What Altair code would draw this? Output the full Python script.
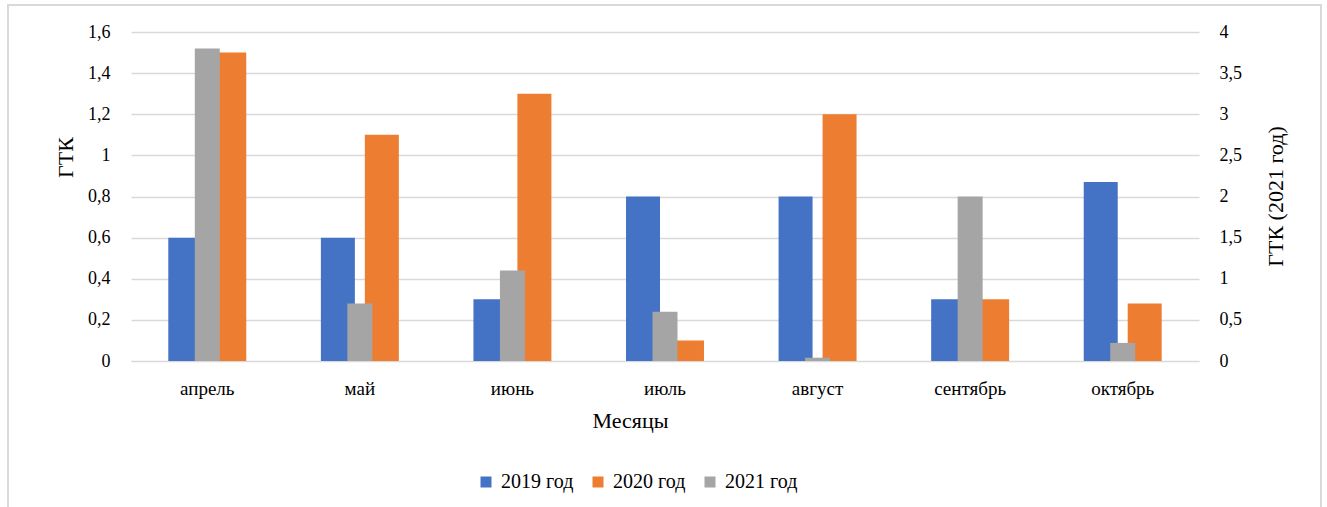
import altair as alt
import pandas as pd

months = ["апрель", "май", "июнь", "июль", "август", "сентябрь", "октябрь"]
gtk_2019 = [0.6, 0.6, 0.3, 0.8, 0.8, 0.3, 0.87]
gtk_2020 = [1.5, 1.1, 1.3, 0.1, 1.2, 0.3, 0.28]
gtk_2021 = [3.8, 0.7, 1.1, 0.6, 0.04, 2.0, 0.22]
series = ["2019 год", "2020 год", "2021 год"]
colors = ["#4472C4", "#ED7D31", "#A5A5A5"]

rows = []
for s, vals in zip(series, [gtk_2019, gtk_2020, gtk_2021]):
    for m, v in zip(months, vals):
        rows.append({"month": m, "series": s, "value": v})
df = pd.DataFrame(rows)

FONT = "Times New Roman"
W, H = 1068, 329
GRID = "#D9D9D9"
comma = "replace(format(datum.value, '.1~f'), '.', ',')"

xscale = alt.Scale(domain=months, paddingInner=0.489, paddingOuter=0.2445)
xaxis = alt.Axis(title="Месяцы", labelAngle=0, domain=True, domainColor=GRID, ticks=False,
                 labelPadding=18, labelFontSize=19, labelFont=FONT, labelColor="#000000",
                 titleFont=FONT, titleFontSize=22, titleFontWeight="normal", titleColor="#000000",
                 titleX=499, titleY=59, titleBaseline="middle", titleAlign="center")

color = alt.Color("series:N", scale=alt.Scale(domain=series, range=colors),
                  legend=alt.Legend(title=None, orient="none", direction="horizontal",
                                    legendX=345, legendY=440, symbolType="square",
                                    symbolSize=121, symbolStrokeWidth=0, labelFont=FONT,
                                    labelFontSize=20, labelColor="#000000", labelOffset=5,
                                    columnPadding=14))

primary = alt.Chart(df).transform_filter(
    alt.FieldOneOfPredicate(field="series", oneOf=series[:2])
).mark_bar().encode(
    x=alt.X("month:N", scale=xscale, axis=xaxis),
    xOffset=alt.XOffset("series:N", scale=alt.Scale(domain=series[:2], paddingInner=0.227, paddingOuter=0)),
    y=alt.Y("value:Q", scale=alt.Scale(domain=[0, 1.6]),
            axis=alt.Axis(title="ГТК", values=[0, 0.2, 0.4, 0.6, 0.8, 1.0, 1.2, 1.4, 1.6],
                          labelExpr=comma, domain=False, ticks=False, grid=True, gridColor=GRID,
                          gridWidth=1.3, labelPadding=21, labelFont=FONT, labelFontSize=18,
                          labelColor="#000000", titleFont=FONT, titleFontSize=22,
                          titleFontWeight="normal", titleColor="#000000", titleAngle=270,
                          titleX=-66, titleY=125, titleBaseline="middle", titleAlign="center")),
    color=color,
)

secondary = alt.Chart(df).transform_filter(
    alt.datum.series == "2021 год"
).mark_bar(size=25).encode(
    x=alt.X("month:N", scale=xscale),
    y=alt.Y("value:Q", scale=alt.Scale(domain=[0, 4]),
            axis=alt.Axis(orient="right", title="ГТК (2021 год)",
                          values=[0, 0.5, 1, 1.5, 2, 2.5, 3, 3.5, 4], labelExpr=comma,
                          domain=False, ticks=False, grid=False, labelPadding=20,
                          labelFont=FONT, labelFontSize=18, labelColor="#000000",
                          titleFont=FONT, titleFontSize=22, titleFontWeight="normal",
                          titleColor="#000000", titleAngle=270, titleX=76, titleY=164,
                          titleBaseline="middle", titleAlign="center")),
    color=color,
)

border = alt.Chart(pd.DataFrame({"a": [0]})).mark_rect(
    filled=False, stroke=GRID, strokeWidth=2
).encode(x=alt.value(-123), x2=alt.value(1190), y=alt.value(-27), y2=alt.value(490))

chart = alt.layer(border, primary, secondary).resolve_scale(y="independent").properties(
    width=W, height=H, autosize=alt.AutoSizeParams(type="none"),
    padding={"left": 131, "top": 32, "right": 128, "bottom": 146},
    background="white",
).configure(font=FONT).configure_view(strokeWidth=0)

chart.save("out.html", embed_options={"renderer": "svg", "actions": False})
